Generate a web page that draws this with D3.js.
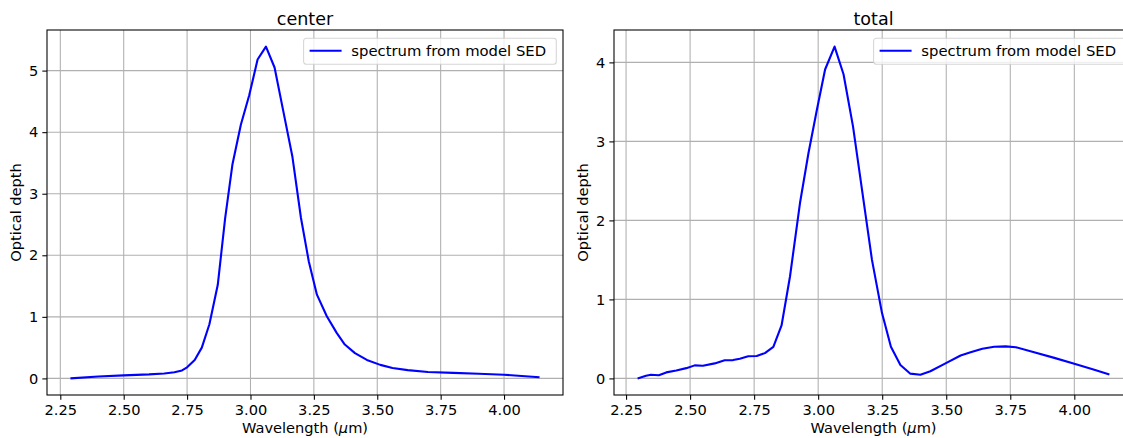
<!DOCTYPE html>
<html>
<head>
<meta charset="utf-8">
<script src="https://cdn.jsdelivr.net/npm/d3@7/dist/d3.min.js"></script>
<style>
  body { margin: 0; background: #fff; }
  svg { display: block; font-family: "DejaVu Sans", sans-serif; }
</style>
</head>
<body>
<div id="chart"></div>
<script>
// center panel: wavelength (um) and optical depth
var centerWave = [2.29, 2.40, 2.50, 2.60, 2.66, 2.70, 2.73, 2.75, 2.78, 2.808, 2.838, 2.871, 2.90, 2.929,
  2.962, 2.995, 3.028, 3.061, 3.095, 3.128, 3.165, 3.199, 3.23, 3.262, 3.301, 3.34, 3.372, 3.412,
  3.459, 3.512, 3.56, 3.62, 3.70, 3.80, 3.90, 4.00, 4.07, 4.14];
var centerTau = [0.0, 0.03, 0.05, 0.065, 0.08, 0.10, 0.13, 0.18, 0.30, 0.50, 0.88, 1.52, 2.60, 3.48,
  4.12, 4.60, 5.18, 5.39, 5.05, 4.37, 3.61, 2.61, 1.90, 1.36, 1.01, 0.74, 0.55, 0.41,
  0.30, 0.22, 0.17, 0.135, 0.105, 0.09, 0.075, 0.06, 0.04, 0.02];

// total panel
var totalWave = [2.295, 2.328, 2.347, 2.378, 2.407, 2.446, 2.485, 2.518, 2.55, 2.596, 2.635, 2.668,
  2.694, 2.727, 2.76, 2.792, 2.825, 2.857, 2.89, 2.929, 2.962, 2.995, 3.027, 3.064, 3.099,
  3.136, 3.164, 3.21, 3.249, 3.284, 3.321, 3.36, 3.399, 3.438, 3.497, 3.556, 3.595, 3.641,
  3.687, 3.732, 3.772, 3.843, 3.922, 4.00, 4.078, 4.137];
var totalTau = [0.0, 0.034, 0.046, 0.04, 0.076, 0.10, 0.13, 0.165, 0.16, 0.19, 0.23, 0.232,
  0.25, 0.28, 0.283, 0.32, 0.40, 0.67, 1.29, 2.22, 2.85, 3.40, 3.91, 4.20, 3.85,
  3.19, 2.55, 1.50, 0.83, 0.40, 0.17, 0.06, 0.047, 0.09, 0.19, 0.29, 0.33, 0.375,
  0.40, 0.405, 0.395, 0.33, 0.26, 0.186, 0.11, 0.05];

var xTicks = [2.25, 2.50, 2.75, 3.00, 3.25, 3.50, 3.75, 4.00];
var centerYTicks = [0, 1, 2, 3, 4, 5];
var totalYTicks = [0, 1, 2, 3, 4];
var legendLabel = "spectrum from model SED";

var W = 1123, H = 438;
var svg = d3.select("#chart").append("svg")
  .attr("width", W)
  .attr("height", H);

function drawPanel(box, waves, taus, yTicks, title) {
  // matplotlib style 5% margins
  var xExt = d3.extent(waves), yExt = d3.extent(taus);
  var xPad = (xExt[1] - xExt[0]) * 0.05, yPad = (yExt[1] - yExt[0]) * 0.05;

  var x = d3.scaleLinear().domain([xExt[0] - xPad, xExt[1] + xPad]).range([box.left, box.right]);
  var y = d3.scaleLinear().domain([yExt[0] - yPad, yExt[1] + yPad]).range([box.bottom, box.top]);

  var g = svg.append("g");

  // grid
  g.selectAll("line.vgrid").data(xTicks).enter().append("line")
    .attr("x1", function(d) { return x(d); })
    .attr("x2", function(d) { return x(d); })
    .attr("y1", box.top).attr("y2", box.bottom)
    .attr("stroke", "#b0b0b0").attr("stroke-width", 1.07);
  g.selectAll("line.hgrid").data(yTicks).enter().append("line")
    .attr("y1", function(d) { return y(d); })
    .attr("y2", function(d) { return y(d); })
    .attr("x1", box.left).attr("x2", box.right)
    .attr("stroke", "#b0b0b0").attr("stroke-width", 1.07);

  // curve
  var line = d3.line()
    .x(function(d) { return x(d[0]); })
    .y(function(d) { return y(d[1]); });
  g.append("path")
    .datum(d3.zip(waves, taus))
    .attr("d", line)
    .attr("fill", "none")
    .attr("stroke", "#0000ff")
    .attr("stroke-width", 2.1)
    .attr("stroke-linejoin", "round");

  // axes
  var xAxis = d3.axisBottom(x).tickValues(xTicks).tickFormat(d3.format(".2f"))
    .tickSizeInner(4.67).tickSizeOuter(0).tickPadding(5);
  var yAxis = d3.axisLeft(y).tickValues(yTicks).tickFormat(d3.format("d"))
    .tickSizeInner(4.67).tickSizeOuter(0).tickPadding(4);

  var gx = g.append("g").attr("transform", "translate(0," + box.bottom + ")").call(xAxis);
  var gy = g.append("g").attr("transform", "translate(" + box.left + ",0)").call(yAxis);
  [gx, gy].forEach(function(a) {
    a.select(".domain").remove();
    a.selectAll(".tick line").attr("stroke", "#000").attr("stroke-width", 1.07);
    a.selectAll(".tick text").attr("fill", "#000")
      .style("font-family", "DejaVu Sans").style("font-size", "14.6px");
  });

  // frame
  g.append("rect")
    .attr("x", box.left).attr("y", box.top)
    .attr("width", box.right - box.left).attr("height", box.bottom - box.top)
    .attr("fill", "none").attr("stroke", "#000").attr("stroke-width", 1.07);

  // title and labels
  var cx = (box.left + box.right) / 2;
  g.append("text")
    .attr("x", cx).attr("y", 24.5)
    .attr("text-anchor", "middle")
    .style("font-size", "17.5px")
    .text(title);
  var xl = g.append("text")
    .attr("x", cx).attr("y", 433)
    .attr("text-anchor", "middle")
    .style("font-size", "14.6px");
  xl.append("tspan").text("Wavelength (");
  xl.append("tspan").style("font-style", "italic").text("\u03bc");
  xl.append("tspan").text("m)");
  g.append("text")
    .attr("transform", "translate(" + (box.left - 26) + "," + ((box.top + box.bottom) / 2) + ") rotate(-90)")
    .attr("text-anchor", "middle")
    .style("font-size", "14.6px")
    .text("Optical depth");

  // legend, upper right
  var lw = 252.7, lh = 26;
  var lx = box.right - 6.7 - lw, ly = box.top + 8.3;
  var leg = g.append("g").attr("transform", "translate(" + lx + "," + ly + ")");
  leg.append("rect")
    .attr("width", lw).attr("height", lh).attr("rx", 2.7)
    .attr("fill", "#fff").attr("fill-opacity", 0.8)
    .attr("stroke", "#cccccc").attr("stroke-opacity", 0.8).attr("stroke-width", 1.07);
  leg.append("line")
    .attr("x1", 6).attr("x2", 38).attr("y1", 12.4).attr("y2", 12.4)
    .attr("stroke", "#0000ff").attr("stroke-width", 2.1);
  leg.append("text")
    .attr("x", 47.7).attr("y", 17.6)
    .style("font-size", "14.8px")
    .text(legendLabel);
}

drawPanel({left: 47, right: 563, top: 30, bottom: 395}, centerWave, centerTau, centerYTicks, "center");
drawPanel({left: 614, right: 1133, top: 30, bottom: 395}, totalWave, totalTau, totalYTicks, "total");
</script>
</body>
</html>
